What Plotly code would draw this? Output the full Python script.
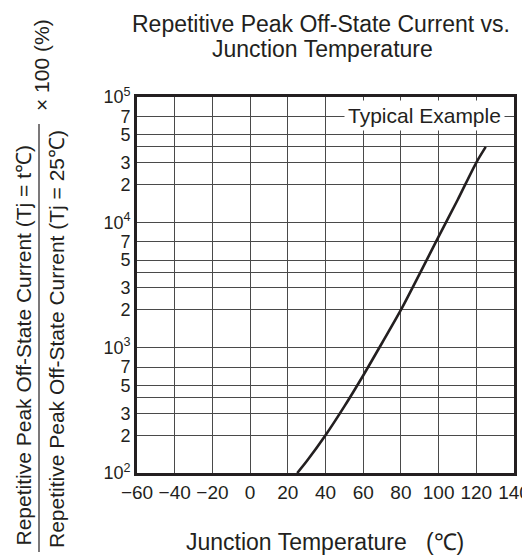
import plotly.graph_objects as go

# ---- data ----
junction_temp_c = [25, 30, 40, 50, 60, 70, 80, 90, 100, 110, 120, 125]
current_ratio_pct = [100, 124, 200, 340, 600, 1090, 2000, 3900, 7700, 15000, 30000, 40000]

x_ticks = [-60, -40, -20, 0, 20, 40, 60, 80, 100, 120, 140]
x_tick_text = ["\u221260", "\u221240", "\u221220", "0", "20", "40", "60", "80", "100", "120", "140"]

y_ticks = [100, 200, 300, 400, 500, 700,
           1000, 2000, 3000, 4000, 5000, 7000,
           10000, 20000, 30000, 40000, 50000, 70000, 100000]
y_tick_text = ["10<sup>2</sup>", "2", "3", " ", "5", "7",
               "10<sup>3</sup>", "2", "3", " ", "5", "7",
               "10<sup>4</sup>", "2", "3", " ", "5", "7", "10<sup>5</sup>"]

TXT = "#231f20"
FONT = "Liberation Sans, Arial, Helvetica, sans-serif"

# page offset of the figure inside the browser page (default body margin)
OFF = 8
FIG_W, FIG_H = 530, 557

fig = go.Figure()
fig.add_trace(go.Scatter(
    x=junction_temp_c, y=current_ratio_pct, mode="lines",
    line=dict(color=TXT, width=2.6, shape="spline", smoothing=0.8),
    hoverinfo="skip", showlegend=False,
))

# plot area in page pixels: x 137..514, y 97..473
L, R, T, B = 137 - OFF, 514 - OFF, 97 - OFF, 473 - OFF
W, H = R - L, B - T


def px(x):
    return (x - OFF - L) / W


def py(y):
    return (B - (y - OFF)) / H


annotations = [
    dict(text="Repetitive Peak Off-State Current vs.", x=px(321), y=py(24),
         xref="paper", yref="paper", showarrow=False, xanchor="center", yanchor="middle",
         font=dict(size=23, color=TXT, family=FONT)),
    dict(text="Junction Temperature", x=px(322), y=py(49),
         xref="paper", yref="paper", showarrow=False, xanchor="center", yanchor="middle",
         font=dict(size=23, color=TXT, family=FONT)),
    dict(text="Junction Temperature   (\u2103)", x=px(325), y=py(542),
         xref="paper", yref="paper", showarrow=False, xanchor="center", yanchor="middle",
         font=dict(size=23, color=TXT, family=FONT)),
    dict(text="Typical Example", x=px(424), y=py(116),
         xref="paper", yref="paper", showarrow=False, xanchor="center", yanchor="middle",
         bgcolor="white", borderpad=3,
         font=dict(size=21, color=TXT, family=FONT)),
    # y-axis title as a fraction
    dict(text="Repetitive Peak Off-State Current (Tj = t\u2103)", x=px(23), y=py(548),
         xref="paper", yref="paper", showarrow=False, xanchor="center", yanchor="bottom",
         textangle=-90, font=dict(size=21, color=TXT, family=FONT)),
    dict(text="Repetitive Peak Off-State Current (Tj = 25\u2103)", x=px(56), y=py(550),
         xref="paper", yref="paper", showarrow=False, xanchor="center", yanchor="bottom",
         textangle=-90, font=dict(size=21, color=TXT, family=FONT)),
    dict(text="\u00d7 100 (%)", x=px(42), y=py(113),
         xref="paper", yref="paper", showarrow=False, xanchor="center", yanchor="bottom",
         textangle=-90, font=dict(size=21, color=TXT, family=FONT)),
]

shapes = [
    dict(type="line", xref="paper", yref="paper", x0=px(39), x1=px(39), y0=py(552), y1=py(124),
         line=dict(color=TXT, width=1.2)),
]

fig.update_layout(
    width=FIG_W, height=FIG_H,
    margin=dict(l=L, r=FIG_W - R, t=T, b=FIG_H - B, autoexpand=False),
    paper_bgcolor="white", plot_bgcolor="white",
    font=dict(family=FONT, color=TXT),
    annotations=annotations, shapes=shapes,
    showlegend=False,
)

fig.update_xaxes(
    range=[-60, 140], tickvals=x_ticks, ticktext=x_tick_text,
    showgrid=True, gridcolor="#4a4a4a", gridwidth=1,
    showline=True, linecolor=TXT, linewidth=2.6, mirror=True,
    ticks="", zeroline=False, automargin=False, ticklabeloverflow="allow",
    tickfont=dict(size=19, color=TXT, family=FONT),
)
fig.update_yaxes(
    type="log", range=[2, 5], tickvals=y_ticks, ticktext=y_tick_text,
    showgrid=True, gridcolor="#4a4a4a", gridwidth=1,
    showline=True, linecolor=TXT, linewidth=2.6, mirror=True,
    ticks="", zeroline=False, automargin=False,
    tickfont=dict(size=18, color=TXT, family=FONT),
)

fig.write_html("out.html")
